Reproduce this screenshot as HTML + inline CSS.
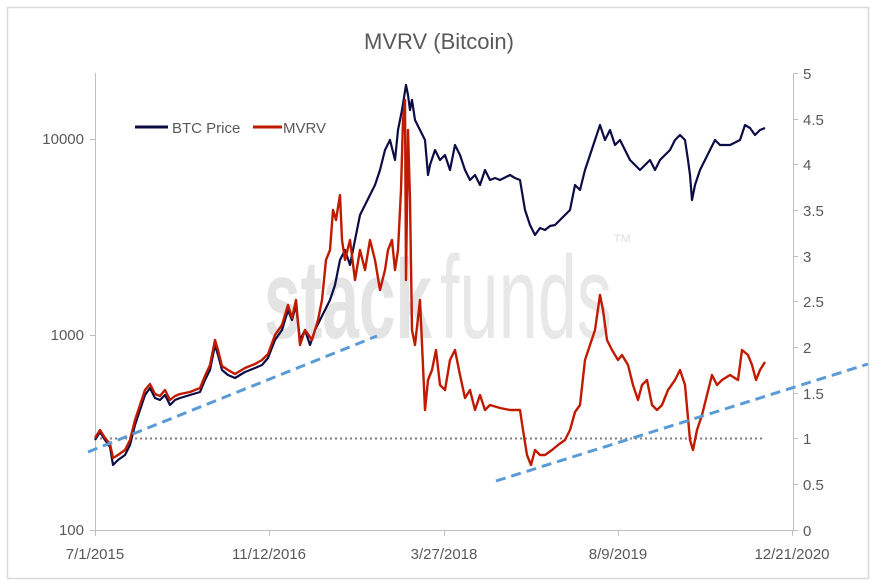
<!DOCTYPE html>
<html><head><meta charset="utf-8"><style>
body{margin:0;background:#fff;}
svg{display:block;font-family:"Liberation Sans",sans-serif;}
</style></head><body>
<svg width="878" height="586" viewBox="0 0 878 586">
<rect x="0" y="0" width="878" height="586" fill="#fff"/>
<rect x="7.5" y="7.5" width="861" height="571" fill="#fff" stroke="#d9d9d9" stroke-width="1.5"/>
<text x="439" y="49" text-anchor="middle" font-size="22" fill="#595959">MVRV (Bitcoin)</text>
<!-- watermark -->
<text x="264" y="338" font-size="112" font-weight="bold" fill="#e4e4e4" textLength="168" lengthAdjust="spacingAndGlyphs">stack</text>
<text x="440" y="338" font-size="118" fill="#e8e8e8" textLength="172" lengthAdjust="spacingAndGlyphs">funds</text>
<text x="612" y="248" font-size="20" fill="#e4e4e4">™</text>
<!-- axes -->
<g stroke="#bfbfbf" stroke-width="1" fill="none">
<line x1="95.5" y1="73" x2="95.5" y2="530"/>
<line x1="95" y1="530.5" x2="793" y2="530.5"/>
<line x1="793.5" y1="73" x2="793.5" y2="530"/>
<line x1="90" y1="530.5" x2="95" y2="530.5"/><line x1="90" y1="335.5" x2="95" y2="335.5"/><line x1="90" y1="139.5" x2="95" y2="139.5"/>
<line x1="95.5" y1="530" x2="95.5" y2="536"/><line x1="269.5" y1="530" x2="269.5" y2="536"/><line x1="444.5" y1="530" x2="444.5" y2="536"/><line x1="618.5" y1="530" x2="618.5" y2="536"/><line x1="792.5" y1="530" x2="792.5" y2="536"/>
<line x1="793" y1="73.5" x2="798" y2="73.5"/><line x1="793" y1="119.5" x2="798" y2="119.5"/><line x1="793" y1="164.5" x2="798" y2="164.5"/><line x1="793" y1="210.5" x2="798" y2="210.5"/><line x1="793" y1="256.5" x2="798" y2="256.5"/><line x1="793" y1="301.5" x2="798" y2="301.5"/><line x1="793" y1="347.5" x2="798" y2="347.5"/><line x1="793" y1="393.5" x2="798" y2="393.5"/><line x1="793" y1="438.5" x2="798" y2="438.5"/><line x1="793" y1="484.5" x2="798" y2="484.5"/><line x1="793" y1="530.5" x2="798" y2="530.5"/>
</g>
<g font-size="15" fill="#595959">
<text x="84" y="535" text-anchor="end">100</text>
<text x="84" y="340" text-anchor="end">1000</text>
<text x="84" y="144" text-anchor="end">10000</text>
<g text-anchor="start">
<text x="803" y="79">5</text><text x="803" y="125">4.5</text><text x="803" y="170">4</text><text x="803" y="216">3.5</text><text x="803" y="262">3</text><text x="803" y="307">2.5</text><text x="803" y="353">2</text><text x="803" y="399">1.5</text><text x="803" y="444">1</text><text x="803" y="490">0.5</text><text x="803" y="536">0</text>
</g>
<g text-anchor="middle">
<text x="95" y="559">7/1/2015</text><text x="269" y="559">11/12/2016</text><text x="444" y="559">3/27/2018</text><text x="618" y="559">8/9/2019</text><text x="792" y="559">12/21/2020</text>
</g>
</g>
<line x1="100" y1="438.5" x2="765" y2="438.5" stroke="#7f7f7f" stroke-width="2" stroke-dasharray="2,3"/>
<polyline fill="none" stroke="#0d0d45" stroke-width="2.2" stroke-linejoin="round" points="95,440 100,432 105,440 110,447 113,465 118,460 125,455 130,445 135,425 140,410 145,395 150,388 155,398 160,400 165,395 170,405 175,400 180,398 190,395 200,392 205,380 210,370 215,345 218,355 222,370 228,375 235,378 245,372 255,368 262,365 268,358 275,340 282,330 288,310 292,320 296,305 300,340 305,330 310,345 315,330 320,320 325,310 330,300 335,285 340,260 345,250 350,265 355,240 360,215 365,205 370,195 375,185 380,170 385,150 390,140 395,160 398,130 402,110 406,85 408,95 410,110 412,100 415,120 420,130 425,140 428,175 430,165 435,150 440,160 445,155 450,170 455,145 460,155 465,170 470,180 475,175 480,185 485,170 490,180 495,178 500,180 510,175 515,178 520,180 525,210 530,225 535,235 540,228 545,230 550,226 555,225 560,220 565,215 570,210 575,185 580,190 585,170 590,155 595,140 600,125 605,140 610,130 615,145 620,140 625,150 630,160 635,165 640,170 645,165 650,160 655,170 660,160 665,155 670,150 675,140 680,135 685,140 688,160 690,175 692,200 695,185 700,170 705,160 710,150 715,140 720,145 730,145 740,140 745,125 750,128 755,135 760,130 765,128"/>
<polyline fill="none" stroke="#c01a00" stroke-width="2.4" stroke-linejoin="round" points="95,438 100,430 105,438 110,444 113,458 118,455 125,450 130,440 135,420 140,405 145,390 150,384 155,394 160,396 165,390 170,400 175,396 180,394 190,392 200,388 205,376 210,365 215,340 218,350 222,366 228,370 235,374 245,368 255,364 262,360 268,354 275,335 282,325 288,305 292,318 296,300 300,345 305,330 312,340 318,320 322,300 326,260 330,250 333,210 336,220 340,195 342,240 345,260 350,240 355,280 360,250 365,270 370,240 375,260 380,290 385,270 388,250 392,240 395,270 398,250 401,190 403,120 405,100 406,280 408,130 410,200 412,330 415,345 420,300 425,410 428,380 432,370 436,350 440,385 445,390 450,360 455,350 460,375 465,398 470,390 475,410 480,395 485,410 490,405 500,408 510,410 520,410 523,430 527,455 531,465 535,450 540,455 545,455 552,450 558,445 565,440 570,430 575,412 580,405 585,360 590,345 595,330 600,295 603,310 607,340 612,350 618,360 622,355 628,365 633,385 638,400 642,385 647,380 652,405 657,410 662,405 668,390 675,380 680,370 685,385 690,440 693,450 697,430 702,415 707,395 712,375 717,385 722,380 730,375 738,380 742,350 748,355 752,365 756,380 760,370 765,362"/>
<g stroke="#5b9bd5" stroke-width="3" stroke-dasharray="10,6">
<line x1="88" y1="452" x2="377" y2="336"/>
<line x1="496" y1="481" x2="868" y2="364"/>
</g>
<line x1="135" y1="127" x2="168" y2="127" stroke="#0d0d45" stroke-width="3"/>
<text x="172" y="133" font-size="15" fill="#595959">BTC Price</text>
<line x1="253" y1="127" x2="282" y2="127" stroke="#c01a00" stroke-width="3"/>
<text x="283" y="133" font-size="15" fill="#595959">MVRV</text>
</svg>
</body></html>
